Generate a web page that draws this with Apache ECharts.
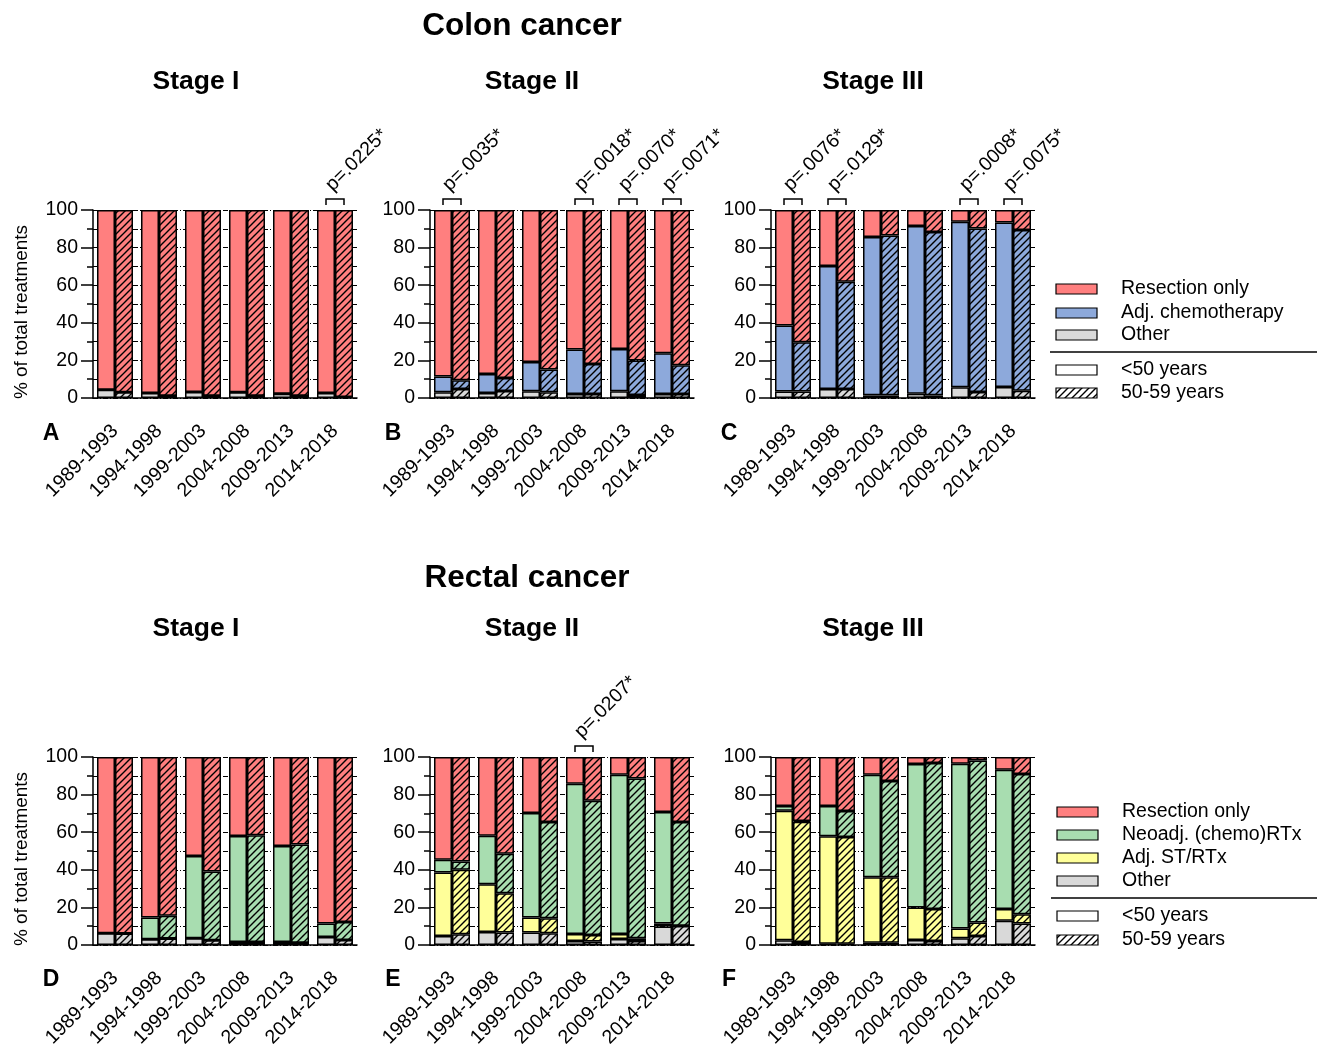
<!DOCTYPE html>
<html>
<head>
<meta charset="utf-8">
<script src="https://cdn.jsdelivr.net/npm/echarts@6/dist/echarts.min.js"></script>
<style>
  html, body { margin: 0; padding: 0; background: #fff; }
  #chart { width: 1317px; height: 1051px; }
</style>
</head>
<body>
<div id="chart"></div>
<script>
// Diagnosis periods (x categories)
const categories = ['1989-1993', '1994-1998', '1999-2003', '2004-2008', '2009-2013', '2014-2018'];
const yTicks = [0, 20, 40, 60, 80, 100];

// ---- Colon cancer, % of treatments (u50 = <50 years, o50 = 50-59 years) ----
// Stage I
const colonI_u50_other     = [4.4, 2.7, 3.2, 3.0, 2.3, 2.7];
const colonI_u50_adj       = [0, 0, 0, 0, 0, 0];
const colonI_u50_resection = [95.6, 97.3, 96.8, 97.0, 97.7, 97.3];
const colonI_o50_other     = [3.0, 1.2, 1.2, 1.2, 1.2, 0.5];
const colonI_o50_adj       = [0, 0, 0, 0, 0, 0];
const colonI_o50_resection = [97.0, 98.8, 98.8, 98.8, 98.8, 99.5];
// Stage II
const colonII_u50_other     = [3.0, 2.7, 3.6, 2.1, 3.6, 2.1];
const colonII_u50_adj       = [8.5, 10.1, 15.6, 23.7, 22.5, 21.7];
const colonII_u50_resection = [88.5, 87.2, 80.8, 74.2, 73.9, 76.2];
const colonII_o50_other     = [4.8, 3.7, 3.0, 2.1, 1.6, 2.1];
const colonII_o50_adj       = [4.6, 7.0, 12.1, 16.0, 18.3, 15.3];
const colonII_o50_resection = [90.6, 89.3, 84.9, 81.9, 80.1, 82.6];
// Stage III
const colonIII_u50_other     = [3.4, 4.8, 1.4, 2.3, 5.7, 5.9];
const colonIII_u50_adj       = [35.1, 65.4, 84.2, 89.2, 88.1, 87.4];
const colonIII_u50_resection = [61.5, 29.8, 14.4, 8.5, 6.2, 6.7];
const colonIII_o50_other     = [3.4, 4.8, 1.4, 1.4, 3.2, 3.9];
const colonIII_o50_adj       = [26.3, 57.0, 85.1, 86.9, 86.9, 85.4];
const colonIII_o50_resection = [70.3, 38.2, 13.5, 11.7, 9.9, 10.7];

// ---- Rectal cancer ----
// Stage I
const rectalI_u50_other     = [6.3, 3.0, 3.6, 1.6, 1.6, 4.3];
const rectalI_u50_adj       = [0, 0, 0, 0, 0, 0];
const rectalI_u50_neoadj    = [0, 11.6, 43.7, 56.4, 51.1, 7.1];
const rectalI_u50_resection = [93.7, 85.4, 52.7, 42.0, 47.3, 88.6];
const rectalI_o50_other     = [6.1, 3.4, 2.5, 1.6, 1.2, 2.7];
const rectalI_o50_adj       = [0, 0, 0, 0, 0, 0];
const rectalI_o50_neoadj    = [0, 12.1, 36.6, 56.8, 52.2, 9.6];
const rectalI_o50_resection = [93.9, 84.5, 60.9, 41.6, 46.6, 87.7];
// Stage II
const rectalII_u50_other     = [4.8, 6.9, 6.6, 2.1, 3.2, 9.8];
const rectalII_u50_adj       = [33.7, 25.4, 8.0, 3.8, 2.7, 1.7];
const rectalII_u50_neoadj    = [6.8, 25.8, 55.6, 79.9, 84.7, 59.2];
const rectalII_u50_resection = [54.7, 41.9, 29.8, 14.2, 9.4, 29.3];
const rectalII_o50_other     = [5.7, 6.6, 6.2, 1.8, 2.1, 10.1];
const rectalII_o50_adj       = [34.3, 20.9, 8.0, 3.5, 1.5, 0.2];
const rectalII_o50_neoadj    = [4.4, 21.0, 51.2, 71.4, 84.9, 55.1];
const rectalII_o50_resection = [55.6, 51.5, 34.6, 23.3, 11.5, 34.6];
// Stage III
const rectalIII_u50_other     = [2.5, 0.7, 1.2, 2.7, 3.6, 12.9];
const rectalIII_u50_adj       = [68.9, 57.2, 34.9, 17.3, 5.2, 6.2];
const rectalIII_u50_neoadj    = [2.5, 16.1, 54.4, 76.3, 87.6, 74.1];
const rectalIII_u50_resection = [26.1, 26.0, 9.5, 3.7, 3.6, 6.8];
const rectalIII_o50_other     = [1.6, 0.7, 1.2, 2.1, 4.8, 11.4];
const rectalIII_o50_adj       = [63.9, 56.8, 34.9, 17.0, 7.2, 5.0];
const rectalIII_o50_neoadj    = [0.4, 13.8, 51.2, 77.7, 86.2, 74.5];
const rectalIII_o50_resection = [34.1, 28.7, 12.7, 3.2, 1.8, 9.1];

// Significance brackets: [period, label]
const colonI_pvals   = [['2014-2018', 'p=.0225*']];
const colonII_pvals  = [['1989-1993', 'p=.0035*'], ['2004-2008', 'p=.0018*'], ['2009-2013', 'p=.0070*'], ['2014-2018', 'p=.0071*']];
const colonIII_pvals = [['1989-1993', 'p=.0076*'], ['1994-1998', 'p=.0129*'], ['2009-2013', 'p=.0008*'], ['2014-2018', 'p=.0075*']];
const rectalI_pvals   = [];
const rectalII_pvals  = [['2004-2008', 'p=.0207*']];
const rectalIII_pvals = [];

// Legend labels
const colonLegend  = ['Resection only', 'Adj. chemotherapy', 'Other'];
const rectalLegend = ['Resection only', 'Neoadj. (chemo)RTx', 'Adj. ST/RTx', 'Other'];
const ageLegend    = ['<50 years', '50-59 years'];

// ---- styling ----
const FONT = '"Liberation Sans", Arial, sans-serif';
const C_RED = '#FF7F7F', C_BLUE = '#8DA9DB', C_GREY = '#D9D9D9', C_GREEN = '#A8DDB0', C_YELLOW = '#FFFF99';

function hatch(bg) {
  const s = 7;
  const c = document.createElement('canvas');
  c.width = s; c.height = s;
  const g = c.getContext('2d');
  g.fillStyle = bg; g.fillRect(0, 0, s, s);
  g.strokeStyle = '#000'; g.lineWidth = 1.4;
  g.beginPath();
  g.moveTo(-1, s + 1); g.lineTo(s + 1, -1);
  g.moveTo(-1, 1); g.lineTo(1, -1);
  g.moveTo(s - 1, s + 1); g.lineTo(s + 1, s - 1);
  g.stroke();
  return { image: c, repeat: 'repeat' };
}

const BAR_W = 18;
const gridLefts = [93, 430, 771];
const gridTops = [210, 757];

const panels = [
  { row: 0, col: 0, pvals: colonI_pvals, yName: true, letter: 'A', layers: [
    { color: C_GREY, u50: colonI_u50_other, o50: colonI_o50_other },
    { color: C_BLUE, u50: colonI_u50_adj, o50: colonI_o50_adj },
    { color: C_RED, u50: colonI_u50_resection, o50: colonI_o50_resection } ] },
  { row: 0, col: 1, pvals: colonII_pvals, letter: 'B', layers: [
    { color: C_GREY, u50: colonII_u50_other, o50: colonII_o50_other },
    { color: C_BLUE, u50: colonII_u50_adj, o50: colonII_o50_adj },
    { color: C_RED, u50: colonII_u50_resection, o50: colonII_o50_resection } ] },
  { row: 0, col: 2, pvals: colonIII_pvals, letter: 'C', layers: [
    { color: C_GREY, u50: colonIII_u50_other, o50: colonIII_o50_other },
    { color: C_BLUE, u50: colonIII_u50_adj, o50: colonIII_o50_adj },
    { color: C_RED, u50: colonIII_u50_resection, o50: colonIII_o50_resection } ] },
  { row: 1, col: 0, pvals: rectalI_pvals, yName: true, letter: 'D', layers: [
    { color: C_GREY, u50: rectalI_u50_other, o50: rectalI_o50_other },
    { color: C_YELLOW, u50: rectalI_u50_adj, o50: rectalI_o50_adj },
    { color: C_GREEN, u50: rectalI_u50_neoadj, o50: rectalI_o50_neoadj },
    { color: C_RED, u50: rectalI_u50_resection, o50: rectalI_o50_resection } ] },
  { row: 1, col: 1, pvals: rectalII_pvals, letter: 'E', layers: [
    { color: C_GREY, u50: rectalII_u50_other, o50: rectalII_o50_other },
    { color: C_YELLOW, u50: rectalII_u50_adj, o50: rectalII_o50_adj },
    { color: C_GREEN, u50: rectalII_u50_neoadj, o50: rectalII_o50_neoadj },
    { color: C_RED, u50: rectalII_u50_resection, o50: rectalII_o50_resection } ] },
  { row: 1, col: 2, pvals: rectalIII_pvals, letter: 'F', layers: [
    { color: C_GREY, u50: rectalIII_u50_other, o50: rectalIII_o50_other },
    { color: C_YELLOW, u50: rectalIII_u50_adj, o50: rectalIII_o50_adj },
    { color: C_GREEN, u50: rectalIII_u50_neoadj, o50: rectalIII_o50_neoadj },
    { color: C_RED, u50: rectalIII_u50_resection, o50: rectalIII_o50_resection } ] }
];

const grid = [], xAxis = [], yAxis = [], series = [];
const blackLine = (w) => ({ color: '#000', width: w });

panels.forEach((p, gi) => {
  grid.push({ left: gridLefts[p.col], top: gridTops[p.row], width: 264, height: 188,
              outerBoundsMode: 'none', containLabel: false });
  xAxis.push({
    type: 'category', gridIndex: gi, data: categories,
    axisLine: { lineStyle: blackLine(1.5) },
    axisTick: { alignWithLabel: true, length: 12, lineStyle: blackLine(1.5) },
    axisLabel: { rotate: 45, interval: 0, fontSize: 19.5, fontFamily: FONT, color: '#000', margin: 30 },
    splitLine: { show: false }
  });
  yAxis.push({
    type: 'value', gridIndex: gi, min: yTicks[0], max: yTicks[yTicks.length - 1], interval: 20,
    name: p.yName ? '% of total treatments' : '',
    nameLocation: 'middle', nameGap: 62, nameRotate: 90,
    nameTextStyle: { fontSize: 19, fontFamily: FONT, color: '#000', padding: [0, 16, 0, 0] },
    axisLine: { show: true, lineStyle: blackLine(1.5) },
    axisTick: { show: true, length: 12, lineStyle: blackLine(1.5) },
    minorTick: { show: true, splitNumber: 2, length: 6, lineStyle: blackLine(1.5) },
    splitLine: { show: true, lineStyle: { color: '#000', width: 1, type: [5, 2, 1, 2] } },
    minorSplitLine: { show: true, lineStyle: { color: '#000', width: 1, type: [5, 2, 1, 2] } },
    axisLabel: { fontSize: 19.5, fontFamily: FONT, color: '#000', margin: 15 }
  });
  ['u50', 'o50'].forEach(age => {
    p.layers.forEach(layer => {
      series.push({
        type: 'bar', xAxisIndex: gi, yAxisIndex: gi, stack: 'g' + gi + age,
        barWidth: BAR_W, barGap: '0%', silent: true,
        data: layer[age],
        itemStyle: { color: age === 'u50' ? layer.color : hatch(layer.color),
                     borderColor: '#000', borderWidth: 1.5 }
      });
    });
  });
  if (p.pvals.length) {
    const labels = p.pvals.map(d => d[1]);
    series.push({
      type: 'custom', xAxisIndex: gi, yAxisIndex: gi, clip: false, silent: true, z: 10,
      data: p.pvals.map(d => [d[0], 100]),
      renderItem: (params, api) => {
        const pt = api.coord([api.value(0), api.value(1)]);
        const x = pt[0], top = pt[1] - 11, hw = BAR_W / 2;
        return { type: 'group', children: [
          { type: 'polyline', shape: { points: [[x - hw, top + 6], [x - hw, top], [x + hw, top], [x + hw, top + 6]] },
            style: { stroke: '#000', lineWidth: 1.5, fill: null } },
          { type: 'text', x: x + 1, y: top - 4, rotation: Math.PI / 4,
            style: { text: labels[params.dataIndex], fontSize: 19.5, fontFamily: FONT, fill: '#000',
                     align: 'left', verticalAlign: 'bottom' } }
        ] };
      }
    });
  }
});

// ---- titles, panel letters and legends ----
const graphic = [];
function txt(x, y, text, size, bold, align) {
  graphic.push({ type: 'text', x, y, style: { text, fontSize: size, fontWeight: bold ? 'bold' : 'normal',
    fontFamily: FONT, fill: '#000', align: align || 'center', verticalAlign: 'middle' } });
}
txt(522, 26, 'Colon cancer', 31.5, true);
txt(527, 578, 'Rectal cancer', 31.5, true);
[['Stage I', 196], ['Stage II', 532], ['Stage III', 873]].forEach(([t, x]) => {
  txt(x, 82, t, 26.5, true); txt(x, 629, t, 26.5, true);
});
panels.forEach(p => {
  txt([51, 393, 729][p.col], [434, 980][p.row], p.letter, 23, true);
});

function legend(x, rows, lineY, ageRows, labels, colors) {
  labels.forEach((l, i) => {
    graphic.push({ type: 'rect', shape: { x: x, y: rows[i] - 5, width: 41, height: 10 },
      style: { fill: colors[i], stroke: '#000', lineWidth: 1.2 } });
    txt(x + 65, rows[i], l, 19.5, false, 'left');
  });
  graphic.push({ type: 'line', shape: { x1: x - 6, y1: lineY, x2: 1317, y2: lineY },
    style: { stroke: '#000', lineWidth: 1.5 } });
  ageLegend.forEach((l, i) => {
    graphic.push({ type: 'rect', shape: { x: x, y: ageRows[i] - 5, width: 41, height: 10 },
      style: { fill: i === 0 ? '#fff' : hatch('#fff'), stroke: '#000', lineWidth: 1.2 } });
    txt(x + 65, ageRows[i], l, 19.5, false, 'left');
  });
}
legend(1056, [289, 313, 335], 352, [370, 393], colonLegend, [C_RED, C_BLUE, C_GREY]);
legend(1057, [812, 835, 858, 881], 898, [916, 940], rectalLegend, [C_RED, C_GREEN, C_YELLOW, C_GREY]);

const chart = echarts.init(document.getElementById('chart'), null, { renderer: 'canvas' });
chart.setOption({
  animation: false,
  backgroundColor: '#fff',
  textStyle: { fontFamily: FONT },
  grid, xAxis, yAxis, series, graphic
});
</script>
</body>
</html>
